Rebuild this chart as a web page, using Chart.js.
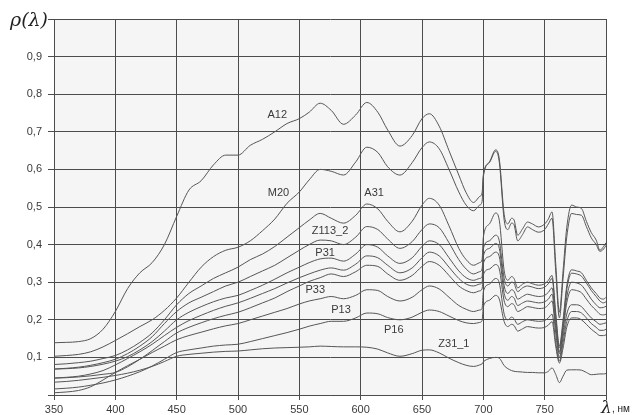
<!DOCTYPE html>
<html>
<head>
<meta charset="utf-8">
<script src="https://cdn.jsdelivr.net/npm/chart.js@4.4.1/dist/chart.umd.min.js"></script>
<style>
html, body { margin: 0; padding: 0; background: #fff; }
</style>
</head>
<body>
<canvas id="chart" width="632" height="415"></canvas>
<script>
// wavelength grid, nm
const wavelengths = [350,360,370,380,390,400,410,420,430,440,450,460,470,480,490,500,510,520,530,540,550,
  558,567,576,586,596,605,614,622,632,642,650,656,664,672,680,686,
  692,697,699,700,705,710,713,717,720,723,725,728,732,736,740,745,750,753,756,759,762,765,768,772,776,780,784,788,792,795,798,800];

// reflectance rho(lambda) per sample
const a12 = [.139,.140,.142,.150,.175,.222,.283,.325,.352,.400,.475,.545,.570,.612,.638,.638,.664,.680,.700,.722,.735,
  .752,.776,.757,.720,.745,.778,.752,.705,.662,.690,.735,.748,.715,.650,.585,.538,
  .512,.528,.538,.585,.620,.652,.628,.480,.455,.470,.466,.425,.442,.460,.455,.447,.455,.468,.487,.350,.220,.330,.445,.505,.500,.496,.462,.432,.412,.385,.395,.405];
const m20 = [.103,.105,.108,.115,.128,.145,.163,.182,.200,.225,.258,.300,.340,.368,.385,.393,.410,.437,.468,.510,.540,
  .572,.600,.595,.585,.620,.659,.645,.607,.585,.618,.658,.673,.655,.600,.540,.505,
  .490,.505,.515,.580,.618,.648,.620,.465,.440,.457,.453,.410,.427,.447,.440,.433,.440,.455,.470,.330,.205,.310,.420,.483,.480,.478,.448,.418,.400,.382,.388,.398];
const a31 = [.081,.083,.086,.090,.097,.105,.120,.140,.165,.200,.240,.270,.290,.310,.325,.340,.360,.375,.395,.420,.445,
  .465,.483,.470,.457,.478,.508,.495,.462,.434,.462,.505,.523,.505,.450,.390,.360,
  .345,.352,.360,.420,.455,.484,.465,.330,.305,.315,.310,.285,.295,.300,.296,.292,.296,.305,.318,.220,.130,.200,.290,.333,.330,.325,.305,.285,.270,.258,.255,.260];
const z113_2 = [.069,.071,.074,.079,.086,.095,.110,.130,.155,.190,.222,.245,.260,.275,.290,.300,.315,.330,.345,.365,.385,
  .400,.412,.410,.400,.420,.448,.440,.415,.390,.408,.440,.455,.445,.405,.360,.335,
  .322,.328,.335,.390,.410,.425,.410,.310,.290,.300,.297,.275,.285,.290,.287,.283,.287,.296,.310,.210,.125,.190,.280,.324,.322,.316,.298,.278,.262,.250,.245,.248];
const p31 = [.069,.070,.072,.076,.082,.090,.102,.120,.142,.170,.200,.220,.235,.248,.258,.265,.278,.292,.308,.325,.340,
  .352,.362,.364,.356,.375,.400,.393,.370,.350,.365,.395,.410,.400,.365,.330,.312,
  .305,.310,.315,.370,.390,.403,.390,.290,.270,.280,.276,.255,.262,.268,.265,.262,.265,.273,.285,.195,.115,.180,.260,.300,.298,.292,.275,.255,.240,.232,.233,.236];
const unlabeled = [.045,.047,.050,.056,.065,.080,.097,.115,.135,.158,.180,.198,.212,.225,.236,.245,.257,.270,.283,.298,.312,
  .322,.332,.338,.332,.348,.370,.365,.345,.325,.338,.365,.380,.370,.340,.310,.295,
  .290,.295,.300,.350,.368,.380,.368,.270,.252,.262,.258,.238,.245,.250,.248,.245,.248,.255,.268,.180,.110,.170,.245,.280,.278,.272,.255,.238,.225,.215,.213,.215];
const p33 = [.045,.046,.048,.051,.055,.060,.075,.095,.118,.142,.165,.180,.192,.203,.212,.220,.232,.245,.258,.275,.290,
  .302,.312,.322,.315,.328,.345,.342,.322,.305,.318,.342,.355,.345,.318,.290,.278,
  .272,.277,.282,.320,.335,.347,.335,.250,.235,.243,.240,.222,.228,.235,.233,.230,.232,.240,.250,.165,.100,.155,.215,.240,.240,.235,.220,.205,.195,.188,.190,.192];
const p13 = [.006,.008,.012,.022,.040,.060,.078,.095,.113,.130,.147,.158,.167,.176,.184,.190,.200,.210,.220,.230,.242,
  .250,.256,.262,.256,.265,.280,.278,.262,.250,.260,.280,.290,.282,.260,.238,.228,
  .222,.226,.230,.275,.295,.310,.298,.215,.200,.207,.203,.188,.195,.200,.198,.196,.198,.205,.215,.140,.090,.140,.195,.222,.222,.218,.205,.190,.180,.172,.172,.175];
const p16 = [.016,.018,.021,.026,.032,.040,.050,.062,.077,.095,.113,.120,.125,.130,.133,.135,.142,.150,.158,.166,.175,
  .183,.190,.196,.196,.205,.218,.216,.206,.200,.207,.220,.226,.222,.210,.198,.192,
  .190,.193,.198,.235,.252,.265,.255,.195,.182,.188,.185,.170,.176,.182,.180,.178,.180,.186,.195,.130,.085,.125,.180,.205,.205,.200,.188,.175,.165,.158,.158,.160];
const z31_1 = [.034,.036,.039,.043,.047,.052,.058,.066,.076,.089,.103,.108,.111,.114,.116,.117,.120,.123,.125,.126,.127,
  .128,.130,.129,.128,.128,.127,.122,.112,.103,.110,.119,.120,.112,.098,.086,.079,
  .076,.080,.083,.088,.097,.100,.098,.078,.070,.065,.063,.062,.061,.060,.060,.059,.059,.063,.072,.055,.033,.050,.066,.067,.067,.066,.060,.054,.055,.056,.056,.057];

const seriesValues = [a12, m20, a31, z113_2, p31, unlabeled, p33, p13, p16, z31_1];

// curve captions, placed in data units
const captionTexts = ['A12', 'M20', 'A31', 'Z113_2', 'P31', 'P33', 'P13', 'P16', 'Z31_1'];
const captionLambda = [532, 533, 611, 575, 571, 563, 584, 627, 676];
const captionRho = [0.745, 0.538, 0.538, 0.435, 0.379, 0.280, 0.227, 0.174, 0.137];

const lineColor = '#565656';
const gridColor = '#4c4c4c';
const textColor = '#3a3a3a';

function toPoints(values)
{
    return wavelengths.map((w, i) => ({ x: w, y: values[i] }));
}

const plotBackground = {
    id: 'plotBackground',
    beforeDraw(chart) {
        const a = chart.chartArea;
        const ctx = chart.ctx;
        ctx.save();
        ctx.fillStyle = '#f5f5f5';
        ctx.fillRect(a.left, a.top, a.right - a.left, a.bottom - a.top);
        ctx.restore();
    }
};

const captions = {
    id: 'captions',
    afterDraw(chart) {
        const ctx = chart.ctx;
        const xs = chart.scales.x, ys = chart.scales.y;
        ctx.save();
        ctx.fillStyle = textColor;
        ctx.font = '11px "Liberation Sans", Arial, sans-serif';
        ctx.textAlign = 'center';
        ctx.textBaseline = 'middle';
        captionTexts.forEach((t, i) => {
            ctx.fillText(t, xs.getPixelForValue(captionLambda[i]), ys.getPixelForValue(captionRho[i]));
        });

        // axis titles
        ctx.fillStyle = '#222';
        ctx.textAlign = 'left';
        ctx.textBaseline = 'alphabetic';
        ctx.font = 'italic 19px "DejaVu Serif", serif';
        ctx.fillText('\u03C1(\u03BB)', 10, 26);
        ctx.font = 'italic 17px "DejaVu Serif", serif';
        ctx.fillText('\u03BB', 601, 413);
        ctx.font = '10px "Liberation Sans", Arial, sans-serif';
        ctx.fillText(', \u043D\u043C', 612, 412);
        ctx.restore();
    }
};

new Chart(document.getElementById('chart'), {
    type: 'line',
    data: {
        datasets: seriesValues.map(v => ({
            data: toPoints(v),
            borderColor: lineColor,
            borderWidth: 1,
            pointRadius: 0,
            fill: false,
            cubicInterpolationMode: 'monotone'
        }))
    },
    options: {
        responsive: false,
        animation: false,
        layout: { padding: { left: 0, top: 19, right: 26, bottom: 0 } },
        plugins: { legend: { display: false }, tooltip: { enabled: false } },
        scales: {
            x: {
                type: 'linear',
                min: 350,
                max: 800,
                ticks: {
                    stepSize: 50,
                    color: textColor,
                    padding: 3,
                    maxRotation: 0,
                    font: { family: '"Liberation Sans", Arial, sans-serif', size: 11 },
                    callback: v => v === 800 ? '' : String(v)
                },
                grid: { color: gridColor, lineWidth: 1, tickLength: 5 },
                border: { color: gridColor, width: 1 },
                afterFit: s => { s.height = 20; }
            },
            y: {
                min: 0,
                max: 1,
                ticks: {
                    stepSize: 0.1,
                    color: textColor,
                    padding: 6,
                    font: { family: '"Liberation Sans", Arial, sans-serif', size: 11 },
                    callback: v => (v < 0.05 || v > 0.95) ? '' : v.toFixed(1).replace('.', ',')
                },
                grid: { color: gridColor, lineWidth: 1, tickLength: 6 },
                border: { color: gridColor, width: 1 },
                afterFit: s => { s.width = 54; }
            }
        }
    },
    plugins: [plotBackground, captions]
});
</script>
</body>
</html>
